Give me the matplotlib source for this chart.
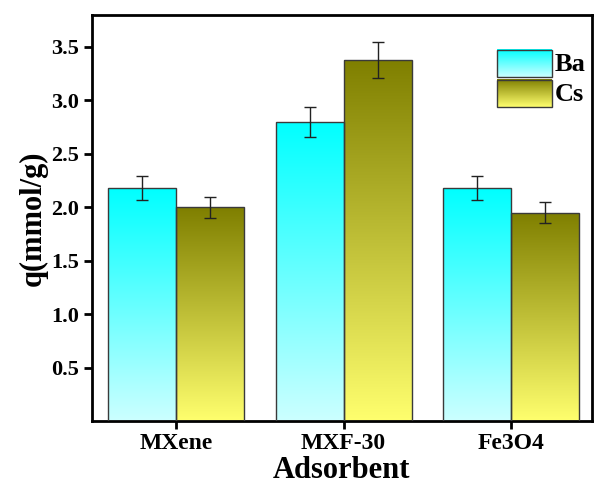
import numpy as np
import matplotlib
matplotlib.use("Agg")
import matplotlib.pyplot as plt
import matplotlib.transforms as mtrans
from matplotlib.colors import LinearSegmentedColormap
from matplotlib.patches import Rectangle

categories = ["MXene", "MXF-30", "Fe3O4"]
ba_values = [2.18, 2.80, 2.18]
ba_errors = [0.11, 0.14, 0.11]
cs_values = [2.00, 3.38, 1.95]
cs_errors = [0.10, 0.17, 0.10]
yticks = [0.5, 1.0, 1.5, 2.0, 2.5, 3.0, 3.5]

plt.rcParams['font.family'] = ['Liberation Serif', 'DejaVu Serif']
plt.rcParams['font.weight'] = 'bold'

fig = plt.figure(figsize=(5.97, 4.91), dpi=100)
ax = fig.add_axes([0.154, 0.1426, 0.8375, 0.827])

ba_cmap = LinearSegmentedColormap.from_list("ba", ["#CCFFFF", "#00FFFF"])
cs_cmap = LinearSegmentedColormap.from_list("cs", ["#FFFF6E", "#7F7F00"])

x = np.arange(1, len(categories) + 1)
w = 0.405
grad = np.linspace(0, 1, 256).reshape(-1, 1)

def grad_bars(xpos, vals, errs, cmap, label):
    bars = ax.bar(xpos, vals, width=w, facecolor='none', edgecolor='#3a3a3a',
                  linewidth=1.0, zorder=3, label=label)
    for b in bars:
        x0, y0 = b.get_x(), b.get_y()
        bw, bh = b.get_width(), b.get_height()
        im = ax.imshow(grad, cmap=cmap, aspect='auto', origin='lower',
                       extent=[x0, x0 + bw, y0, y0 + bh], zorder=2)
        im.set_clip_path(b)
    ax.errorbar(xpos, vals, yerr=errs, fmt='none', ecolor='#222222',
                elinewidth=1.0, capsize=4, capthick=1.0, zorder=4)
    return bars

grad_bars(x - w / 2, ba_values, ba_errors, ba_cmap, "Ba")
grad_bars(x + w / 2, cs_values, cs_errors, cs_cmap, "Cs")

ax.set_xlim(0.5, 3.48)
ax.set_ylim(0, 3.8)
ax.set_xticks(x)
ax.set_xticklabels(categories, fontsize=17, fontweight='bold')
ax.set_yticks(yticks)
ax.set_yticklabels([f"{v:.1f}" for v in yticks], fontsize=16, fontweight='bold')
ax.tick_params(axis='both', direction='out', width=2, length=6, pad=3)
for s in ax.spines.values():
    s.set_linewidth(2)
ax.set_xlabel("Adsorbent", fontsize=22, fontweight='bold', labelpad=1)
ax.set_ylabel("q(mmol/g)", fontsize=22, fontweight='bold', labelpad=3)

# legend swatches drawn in axes coordinates
leg_items = [("Ba", ba_cmap, 0.847), ("Cs", cs_cmap, 0.773)]
for lab, cmap, yb in leg_items:
    rect = Rectangle((0.81, yb), 0.11, 0.067, transform=ax.transAxes,
                     facecolor='none', edgecolor='#3a3a3a', linewidth=1.0, zorder=6)
    ax.add_patch(rect)
    im = ax.imshow(grad, cmap=cmap, aspect='auto', origin='lower',
                   extent=[0, 1, 0, 1], zorder=5)
    im.set_transform(mtrans.BboxTransformTo(
        mtrans.TransformedBbox(mtrans.Bbox.from_bounds(0.81, yb, 0.11, 0.067), ax.transAxes)))
    ax.text(0.925, yb + 0.032, lab, transform=ax.transAxes, fontsize=19,
            fontweight='bold', va='center', ha='left', zorder=6)

ax.set_xlim(0.5, 3.48)
ax.set_ylim(0, 3.8)
fig.savefig("out.png", dpi=100)
